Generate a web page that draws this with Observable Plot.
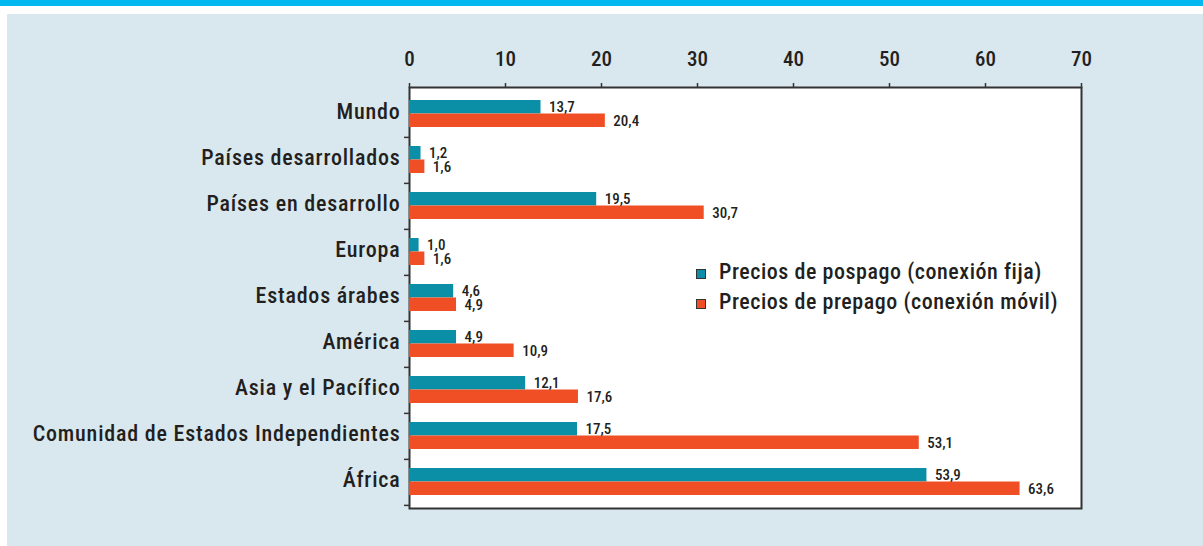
<!DOCTYPE html>
<html><head><meta charset="utf-8">
<script src="https://cdn.jsdelivr.net/npm/d3@7"></script>
<script src="https://cdn.jsdelivr.net/npm/@observablehq/plot@0.6"></script>
<style>
  body{margin:0;background:#fff;width:1203px;height:546px;overflow:hidden;position:relative;
       font-family:"Roboto Condensed","Liberation Sans Narrow","Arial Narrow",Roboto,sans-serif;color:#231f20}
  #topbar{position:absolute;left:0;top:0;width:1203px;height:6px;background:#00b9f1}
  #panel{position:absolute;left:7px;top:14px;width:1196px;height:532px;background:#d9e7ee}
  #legend{position:absolute;left:696px;top:256px;font-size:22px;font-weight:500;letter-spacing:0.55px;z-index:5}
  .row{display:flex;align-items:center;height:30px}
  .sw{width:8px;height:8px;border:1px solid #333;margin-right:13px;transform:translateY(3px)}
</style></head>
<body>
<div id="topbar"></div>
<div id="panel"></div>
<script>
const categories = ["Mundo","Países desarrollados","Países en desarrollo","Europa","Estados árabes","América","Asia y el Pacífico","Comunidad de Estados Independientes","África"];
const pospago = [13.7,1.2,19.5,1.0,4.6,4.9,12.1,17.5,53.9];
const prepago = [20.4,1.6,30.7,1.6,4.9,10.9,17.6,53.1,63.6];
const series = ["Precios de pospago (conexión fija)","Precios de prepago (conexión móvil)"];
const colors = ["#0a8fa7","#f04e24"];
const xTicks = [0,10,20,30,40,50,60,70];

const rows = [];
categories.forEach((c,i)=>{
  rows.push({category:c, series:series[0], value:pospago[i]});
  rows.push({category:c, series:series[1], value:prepago[i]});
});

const W=1196, H=532, mL=402, mR=122, mT=73, mB=38;
const step=(H-mT-mB)/categories.length;
const bw=27, pin=1-bw/step;
const fmt = d => d.toFixed(1).replace(".", ",");
const font = '"Roboto Condensed","Liberation Sans Narrow","Arial Narrow",Roboto,sans-serif';

const chart = Plot.plot({
  width:W, height:H, marginLeft:mL, marginRight:mR, marginTop:mT, marginBottom:mB,
  style:{background:"transparent", fontFamily:font, color:"#231f20", overflow:"visible"},
  x:{domain:[0,70], axis:null, label:null},
  y:{domain:categories, paddingInner:pin, paddingOuter:pin/2, axis:null, label:null},
  color:{domain:series, range:colors},
  marks:[
    Plot.frame({fill:"white", stroke:"#333", strokeWidth:2}),
    Plot.barX(rows.filter(d=>d.series===series[0]), {x:"value", y:"category", fill:"series", insetBottom:bw/2}),
    Plot.barX(rows.filter(d=>d.series===series[1]), {x:"value", y:"category", fill:"series", insetTop:bw/2}),
    Plot.text(rows.filter(d=>d.series===series[0]), {x:"value", y:"category", text:d=>fmt(d.value), dy:-bw/4-0.5, dx:8, textAnchor:"start", fontSize:15, fontWeight:500, fill:"#231f20"}),
    Plot.text(rows.filter(d=>d.series===series[1]), {x:"value", y:"category", text:d=>fmt(d.value), dy:bw/4+0.5, dx:8, textAnchor:"start", fontSize:15, fontWeight:500, fill:"#231f20"}),
    Plot.axisX({anchor:"top", ticks:xTicks, tickSize:5, tickPadding:17, fontSize:21, fontWeight:500, label:null, tickFormat:d=>String(d), stroke:"#333", strokeWidth:1.5}),
    Plot.axisY({anchor:"left", tickSize:0, tickPadding:9, dy:-2.5, fontSize:22, fontWeight:500, label:null}),
    Plot.axisY({anchor:"left", tickSize:5, label:null, tickFormat:()=>"", dy:step/2, stroke:"#333", strokeWidth:1.5})
  ]
});
chart.style.position="absolute"; chart.style.left="7px"; chart.style.top="14px";
chart.querySelectorAll("g[aria-label='y-axis tick label'] text").forEach(t=>t.style.letterSpacing="0.8px");
document.body.appendChild(chart);

const lg=document.createElement("div"); lg.id="legend";
series.forEach((s,i)=>{
  const r=document.createElement("div"); r.className="row";
  const sw=document.createElement("span"); sw.className="sw"; sw.style.background=colors[i];
  const t=document.createElement("span"); t.textContent=s;
  r.appendChild(sw); r.appendChild(t); lg.appendChild(r);
});
document.body.appendChild(lg);
</script>
</body></html>
